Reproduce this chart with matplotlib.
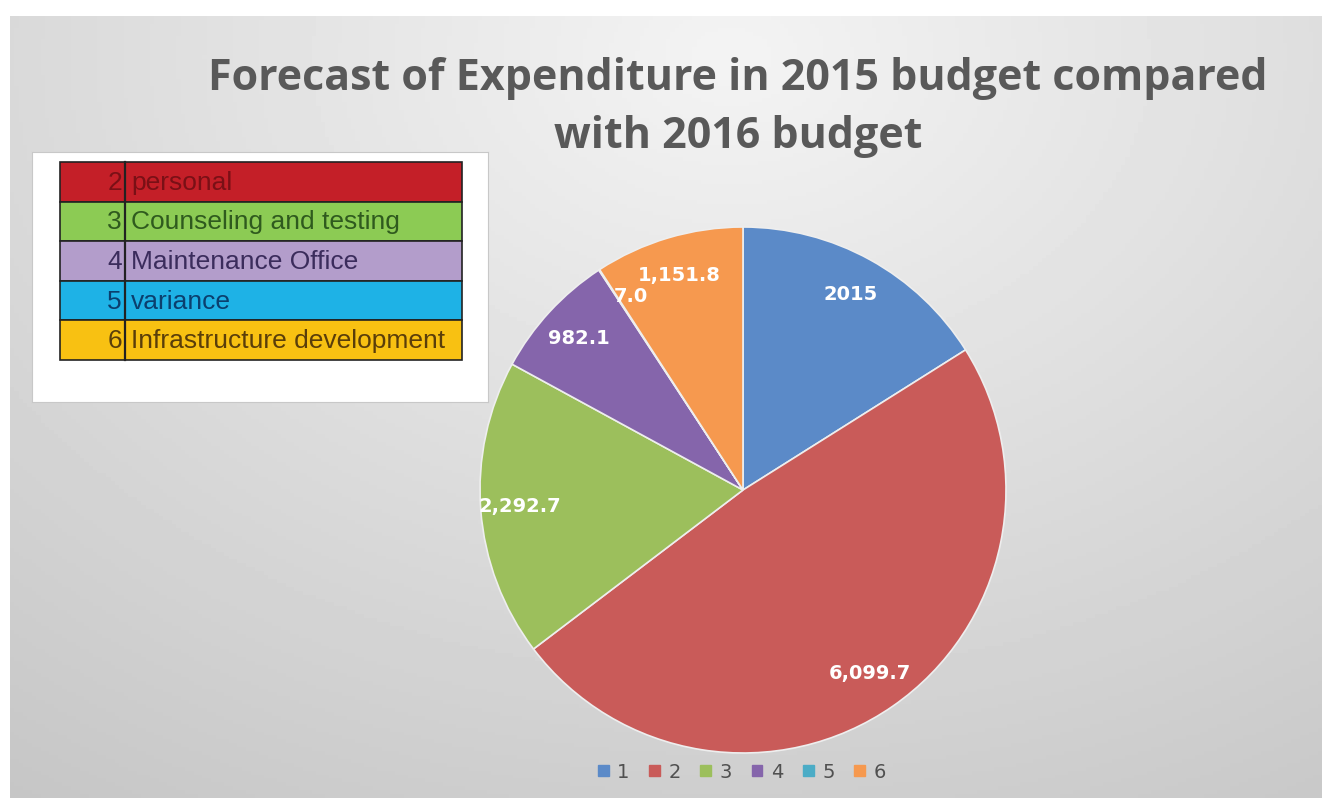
import matplotlib

matplotlib.use("Agg")

import matplotlib.pyplot as plt
import numpy as np

# pie data
slice_names = ["1", "2", "3", "4", "5", "6"]
slice_values = [2015.0, 6099.7, 2292.7, 982.1, 7.0, 1151.8]
slice_labels = ["2015", "6,099.7", "2,292.7", "982.1", "7.0", "1,151.8"]
slice_colors = ["#5b8ac8", "#c95b59", "#9cbf5c", "#8565ab", "#4bacc6", "#f6994f"]

# inset key table
key_numbers = ["2", "3", "4", "5", "6"]
key_names = ["personal", "Counseling and testing", "Maintenance Office", "variance",
             "Infrastructure development"]
key_fill = ["#c41f28", "#8ccb54", "#b39dcb", "#1eb2e6", "#f8c112"]
key_text = ["#7a1016", "#2f5a1e", "#3b2c5c", "#0b3f6e", "#5a3e0a"]

W, H = 1322, 798
fig = plt.figure(figsize=(W / 100, H / 100), dpi=100)
fig.patch.set_facecolor("white")

# gradient background panel
bg = fig.add_axes([10 / W, 0, 1 - 10 / W, 1 - 16 / H])
yy, xx = np.mgrid[0:1:200j, 0:1:300j]
d = np.sqrt(((xx - 0.55) / 0.9) ** 2 + ((yy - 0.05) / 1.1) ** 2)
shade = 0.955 - 0.17 * np.clip(d, 0, 1.2)
bg.imshow(shade, cmap="gray", vmin=0, vmax=1, aspect="auto", extent=[0, 1, 0, 1], origin="upper")
bg.axis("off")

fig.text(738 / W, 1 - 78 / H, "Forecast of Expenditure in 2015 budget compared",
         ha="center", va="center", fontsize=31, fontweight="bold", color="#595959",
         family="Open Sans")
fig.text(738 / W, 1 - 136 / H, "with 2016 budget",
         ha="center", va="center", fontsize=31, fontweight="bold", color="#595959",
         family="Open Sans")

# pie
ax = fig.add_axes([(743 - 263) / W, (798 - 753) / H, 526 / W, 526 / H])
wedges, _ = ax.pie(slice_values, colors=slice_colors, startangle=90, counterclock=False,
                   radius=1.0, wedgeprops=dict(edgecolor="#eeeeee", linewidth=1.2))
ax.set_xlim(-1, 1)
ax.set_ylim(-1, 1)
ax.set_aspect("equal")
ax.axis("off")
for w, lab in zip(wedges, slice_labels):
    ang = np.deg2rad((w.theta1 + w.theta2) / 2)
    r = 0.85
    if lab == "7.0":
        ang = np.deg2rad(120)
    ax.text(r * np.cos(ang), r * np.sin(ang), lab, ha="center", va="center",
            fontsize=14, fontweight="bold", color="white", family="DejaVu Sans")

# bottom legend
handles = [plt.Rectangle((0, 0), 1, 1, color=c) for c in slice_colors]
fig.legend(handles, slice_names, loc="center", bbox_to_anchor=(742 / W, 1 - 772 / H), ncol=6,
           frameon=False, fontsize=14, handlelength=0.55, handleheight=0.55, handletextpad=0.45,
           columnspacing=1.0, labelcolor="#505050")

# inset key box
box = fig.add_axes([32 / W, 1 - 402 / H, 456 / W, 250 / H])
box.set_xlim(32, 488)
box.set_ylim(402, 152)
box.set_facecolor("white")
for s in box.spines.values():
    s.set_color("#c8c8c8")
box.set_xticks([])
box.set_yticks([])
row_top = 162
row_h = 39.6
for i, (num, name) in enumerate(zip(key_numbers, key_names)):
    y0 = row_top + i * row_h
    box.add_patch(plt.Rectangle((60, y0), 402, row_h, facecolor=key_fill[i],
                                edgecolor="#222222", linewidth=1.2))
    box.text(122, y0 + row_h / 2 + 1, num, ha="right", va="center", fontsize=19,
             color=key_text[i], family="Liberation Sans")
    box.text(131, y0 + row_h / 2 + 1, name, ha="left", va="center", fontsize=19,
             color=key_text[i], family="Liberation Sans")
box.plot([125, 125], [row_top, row_top + 5 * row_h], color="#222222", linewidth=1.6)

fig.savefig("out.png", dpi=100)
